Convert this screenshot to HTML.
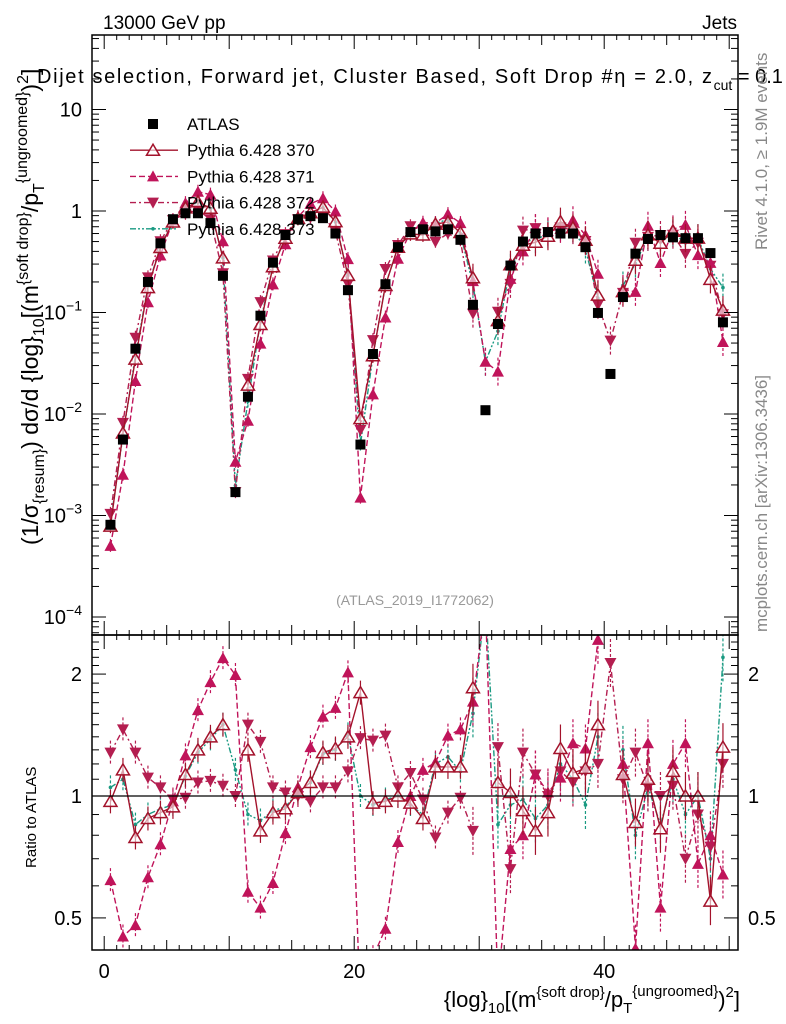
<!DOCTYPE html>
<html><head><meta charset="utf-8"><style>
body{margin:0;background:#fff}
svg{display:block;font-family:"Liberation Sans",sans-serif}
</style></head><body>
<svg id="c" width="786" height="1024" viewBox="0 0 786 1024" xmlns="http://www.w3.org/2000/svg">
<defs>
<clipPath id="cm"><rect x="92" y="35" width="646" height="600"/></clipPath>
<clipPath id="cr"><rect x="92" y="635" width="646" height="315"/></clipPath>
</defs>
<rect x="0" y="0" width="786" height="1024" fill="#fff"/>
<g id="marks-main" clip-path="url(#cm)"></g>
<g id="marks-ratio" clip-path="url(#cr)"></g>
<g id="axes"></g>
<rect x="92" y="35" width="646" height="600" fill="none" stroke="#000" stroke-width="1.5"/>
<rect x="92" y="635" width="646" height="315" fill="none" stroke="#000" stroke-width="1.5"/>
<line x1="92" y1="796" x2="738" y2="796" stroke="#000" stroke-width="1.2"/>
<text x="103" y="29" font-size="19">13000 GeV pp</text>
<text x="737" y="29" font-size="19" text-anchor="end">Jets</text>
<text x="37" y="83" font-size="20"><tspan textLength="675" lengthAdjust="spacing">Dijet selection, Forward jet, Cluster Based, Soft Drop #η = 2.0, z</tspan><tspan font-size="14" dy="7">cut</tspan><tspan dy="-7"> = 0.1</tspan></text>
<text x="415" y="605" font-size="14" fill="#999" text-anchor="middle">(ATLAS_2019_I1772062)</text>
<text transform="translate(767,250) rotate(-90)" font-size="17" fill="#888">Rivet 4.1.0, ≥ 1.9M events</text>
<text transform="translate(767,632) rotate(-90)" font-size="17" fill="#888">mcplots.cern.ch [arXiv:1306.3436]</text>
<text transform="translate(38,545) rotate(-90)" font-size="23">(1/σ<tspan font-size="16" dy="6">{resum}</tspan><tspan dy="-6">) dσ/d {log}</tspan><tspan font-size="16" dy="6">10</tspan><tspan dy="-6">[(m</tspan><tspan font-size="16" dy="-10">{soft drop}</tspan><tspan dy="10">/p</tspan><tspan font-size="16" dy="6">T</tspan><tspan font-size="16" dy="-17">{ungroomed}</tspan><tspan dy="11">)</tspan><tspan font-size="16" dy="-10">2</tspan><tspan dy="10">]</tspan></text>
<text transform="translate(36,868) rotate(-90)" font-size="15">Ratio to ATLAS</text>
<text x="740" y="1007" font-size="22" text-anchor="end">{log}<tspan font-size="15" dy="6">10</tspan><tspan dy="-6">[(m</tspan><tspan font-size="15" dy="-10">{soft drop}</tspan><tspan dy="10">/p</tspan><tspan font-size="15" dy="6">T</tspan><tspan font-size="15" dy="-17">{ungroomed}</tspan><tspan dy="11">)</tspan><tspan font-size="15" dy="-10">2</tspan><tspan dy="10">]</tspan></text>
<g id="legend"></g>
</svg>
<script>
const binCenters=[0.5,1.5,2.5,3.5,4.5,5.5,6.5,7.5,8.5,9.5,10.5,11.5,12.5,13.5,14.5,15.5,16.5,17.5,18.5,19.5,20.5,21.5,22.5,23.5,24.5,25.5,26.5,27.5,28.5,29.5,30.5,31.5,32.5,33.5,34.5,35.5,36.5,37.5,38.5,39.5,40.5,41.5,42.5,43.5,44.5,45.5,46.5,47.5,48.5,49.5];
const atlas=[8.1e-4,5.6e-3,0.044,0.2,0.48,0.83,0.95,0.95,0.76,0.23,1.7e-3,0.0148,0.093,0.31,0.58,0.83,0.89,0.85,0.6,0.166,0.005,0.039,0.19,0.44,0.62,0.66,0.63,0.66,0.52,0.119,0.0109,0.077,0.29,0.5,0.6,0.62,0.6,0.6,0.44,0.099,0.0248,0.142,0.38,0.53,0.58,0.55,0.54,0.54,0.385,0.08];
const ratio370=[0.97,1.16,0.79,0.88,0.91,0.94,1.13,1.30,1.40,1.50,null,1.30,0.82,0.91,0.93,1.02,1.08,1.28,1.31,1.40,1.8,0.96,0.97,1.0,0.96,0.88,1.18,1.18,1.18,1.85,null,1.08,1.02,0.92,0.82,0.91,1.31,1.14,1.17,1.50,null,1.13,0.86,1.10,0.83,1.15,1.0,1.0,0.55,1.32];
const ratio371=[0.62,0.45,0.48,0.63,0.76,0.97,1.26,1.63,1.91,2.19,1.99,0.58,0.53,0.61,0.81,1.05,1.32,1.57,1.65,2.02,0.3,0.40,0.47,0.77,1.0,1.16,1.21,1.41,1.46,1.71,3.0,0.34,0.74,0.80,1.13,1.02,1.11,1.35,1.31,2.43,null,1.2,0.42,1.35,0.53,1.2,1.35,0.68,0.80,0.64];
const ratio372=[1.28,1.46,1.28,1.11,1.05,0.98,0.99,1.08,1.09,1.06,1.0,1.50,1.36,1.05,1.02,1.0,0.97,1.05,1.05,1.15,1.39,1.37,1.41,1.05,1.14,0.98,0.79,0.91,0.99,0.82,null,1.32,0.66,1.28,1.13,1.0,1.15,1.08,1.15,1.2,2.13,1.1,1.28,1.05,1.0,1.06,0.70,0.9,0.75,1.2];
const ratio373=[1.05,1.1,0.85,0.9,0.93,0.95,1.12,1.28,1.38,1.50,1.16,0.9,0.87,0.92,0.94,1.02,1.08,1.27,1.3,1.42,1.0,0.95,0.98,1.0,0.95,0.9,1.2,1.25,1.15,1.6,3.0,0.85,0.95,0.98,0.88,0.95,1.2,1.1,0.95,1.4,null,1.3,0.8,1.05,0.85,1.1,0.9,1.0,0.7,2.2];
const yTickLabels=["10","1","10^-1","10^-2","10^-3","10^-4"];
const yTickValues=[10,1,0.1,0.01,0.001,0.0001];
const rTickValues=[2,1,0.5];
const rTickLabels=["2","1","0.5"];
const xTickValues=[0,20,40];
const xTickLabels=["0","20","40"];

const NS="http://www.w3.org/2000/svg";
const X=v=>104.2+12.5*v;
const YM=v=>211-101.5*Math.log10(v);
const YR=r=>796-405*Math.log10(r);
function mk(tag,attrs,parent){const e=document.createElementNS(NS,tag);for(const k in attrs)e.setAttribute(k,attrs[k]);parent.appendChild(e);return e;}
const gM=document.getElementById('marks-main'),gR=document.getElementById('marks-ratio'),gA=document.getElementById('axes'),gL=document.getElementById('legend');

const series=[
 {id:'370',vals:ratio370,col:'#a3122b',dash:'',m:'tri-open'},
 {id:'371',vals:ratio371,col:'#c0145a',dash:'6,3',m:'tri-up'},
 {id:'372',vals:ratio372,col:'#b41e50',dash:'6,3,2,3',m:'tri-down'},
 {id:'373',vals:ratio373,col:'#1a9a82',dash:'6,2,2,2,2,2',m:'dot'}
];
function marker(g,type,x,y,col){
 let e;
 if(type==='sq'){e=mk('rect',{x:x-5,y:y-5,width:10,height:10,fill:'#000'},g);}
 else if(type==='tri-open'){e=mk('polygon',{points:`${x},${y-6} ${x-6.5},${y+5} ${x+6.5},${y+5}`,fill:'#fff','fill-opacity':'0.6',stroke:col,'stroke-width':1.5},g);}
 else if(type==='tri-up'){e=mk('polygon',{points:`${x},${y-6} ${x-6},${y+5} ${x+6},${y+5}`,fill:col},g);}
 else if(type==='tri-down'){e=mk('polygon',{points:`${x},${y+6} ${x-6},${y-5} ${x+6},${y-5}`,fill:col},g);}
 else {e=mk('circle',{cx:x,cy:y,r:1.8,fill:col},g);}
 return e;
}
function drawSeries(g,s,yfun,valfun,panel,eb){
 let d='',pen=false;
 for(let i=0;i<binCenters.length;i++){
  const v=valfun(i);
  if(v==null||!(v>0)){pen=false;continue;}
  const x=X(binCenters[i]),y=yfun(v);
  d+=(pen?'L':'M')+x.toFixed(1)+','+y.toFixed(1);pen=true;
 }
 const p=mk('path',{d:d,fill:'none',stroke:s.col,'stroke-width':1.4,'stroke-dasharray':s.dash},g);
 
 
 for(let i=0;i<binCenters.length;i++){
  const v=valfun(i);
  if(v==null||!(v>0))continue;
  const x=X(binCenters[i]),y=yfun(v);
  const h=eb*(i>28?2:1);
  const e1=mk('line',{x1:x,x2:x,y1:y-h,y2:y+h,stroke:s.col,'stroke-width':1.2,'stroke-dasharray':s.dash?'3,2':''},g);
  
  
  const e=marker(g,s.m,x,y,s.col);
  
  
 }
}
series.slice().reverse().forEach(s=>drawSeries(gM,s,YM,i=>s.vals[i]==null?null:s.vals[i]*atlas[i],'main',7));
for(let i=0;i<binCenters.length;i++){
 const e=marker(gM,'sq',X(binCenters[i]),YM(atlas[i]),'#000');
 
 
}
series.slice().reverse().forEach(s=>drawSeries(gR,s,YR,i=>s.vals[i],'ratio',12));

for(let d=-5;d<=1;d++){
 for(let k=1;k<10;k++){
  const v=k*Math.pow(10,d),y=YM(v);
  if(y<35||y>635)continue;
  const L=k===1?14:7;
  const t1=mk('line',{x1:92,x2:92+L,y1:y,y2:y,stroke:'#000','stroke-width':1},gA);
  
  
  const t2=mk('line',{x1:738,x2:738-L,y1:y,y2:y,stroke:'#000','stroke-width':1},gA);
  
  
 }
}
yTickValues.forEach((v,i)=>{
 const lab=yTickLabels[i],y=YM(v)+7;
 const t=mk('text',{x:82,y:y,'font-size':20,'text-anchor':'end'},gA);
 
 
 if(lab.indexOf('^')>0){
  const [b,e]=lab.split('^');
  const s1=mk('tspan',{},t);s1.textContent=b;
  const s2=mk('tspan',{'font-size':14,dy:-9},t);s2.textContent=e.replace('-','−');
 } else t.textContent=lab;
});
for(let r=0.4;r<=2.55;r+=0.1){
 const y=YR(r);if(y<635||y>950)continue;
 const maj=[2,1,0.5].some(m=>Math.abs(m-r)<0.01);
 const L=maj?14:7;
 const a=mk('line',{x1:92,x2:92+L,y1:y,y2:y,stroke:'#000'},gA);
 
 
 const b=mk('line',{x1:738,x2:738-L,y1:y,y2:y,stroke:'#000'},gA);
 
 
}
rTickValues.forEach((v,i)=>{
 const t=mk('text',{x:82,y:YR(v)+7,'font-size':20,'text-anchor':'end'},gA);t.textContent=rTickLabels[i];
 
 
 const t2=mk('text',{x:748,y:YR(v)+7,'font-size':20},gA);t2.textContent=rTickLabels[i];
 
 
});
for(let v=0;v<=50;v+=1){
 const x=X(v);
 const L=v%5===0?(v%10===0?14:10):5;
 [[35,35+L],[635,635-L],[635,635+L],[950,950-L]].forEach(([a,b])=>{
  const l=mk('line',{x1:x,x2:x,y1:a,y2:b,stroke:'#000'},gA);
  
  
 });
}
xTickValues.forEach((v,i)=>{
 const t=mk('text',{x:X(v),y:978,'font-size':20,'text-anchor':'middle'},gA);t.textContent=xTickLabels[i];
 
 
});
const legNames=['ATLAS','Pythia 6.428 370','Pythia 6.428 371','Pythia 6.428 372','Pythia 6.428 373'];
legNames.forEach((n,i)=>{
 const y=124+i*26.2;
 const g=mk('g',{},gL);
 
 
 if(i===0){marker(g,'sq',153,y,'#000');}
 else{
  const s=series[i-1];
  mk('line',{x1:130,x2:178,y1:y,y2:y,stroke:s.col,'stroke-width':1.4,'stroke-dasharray':s.dash},g);
  marker(g,s.m,153,y,s.col);
 }
 const t=mk('text',{x:187,y:y+6,'font-size':17},g);t.textContent=n;
});
</script>
</body></html>
